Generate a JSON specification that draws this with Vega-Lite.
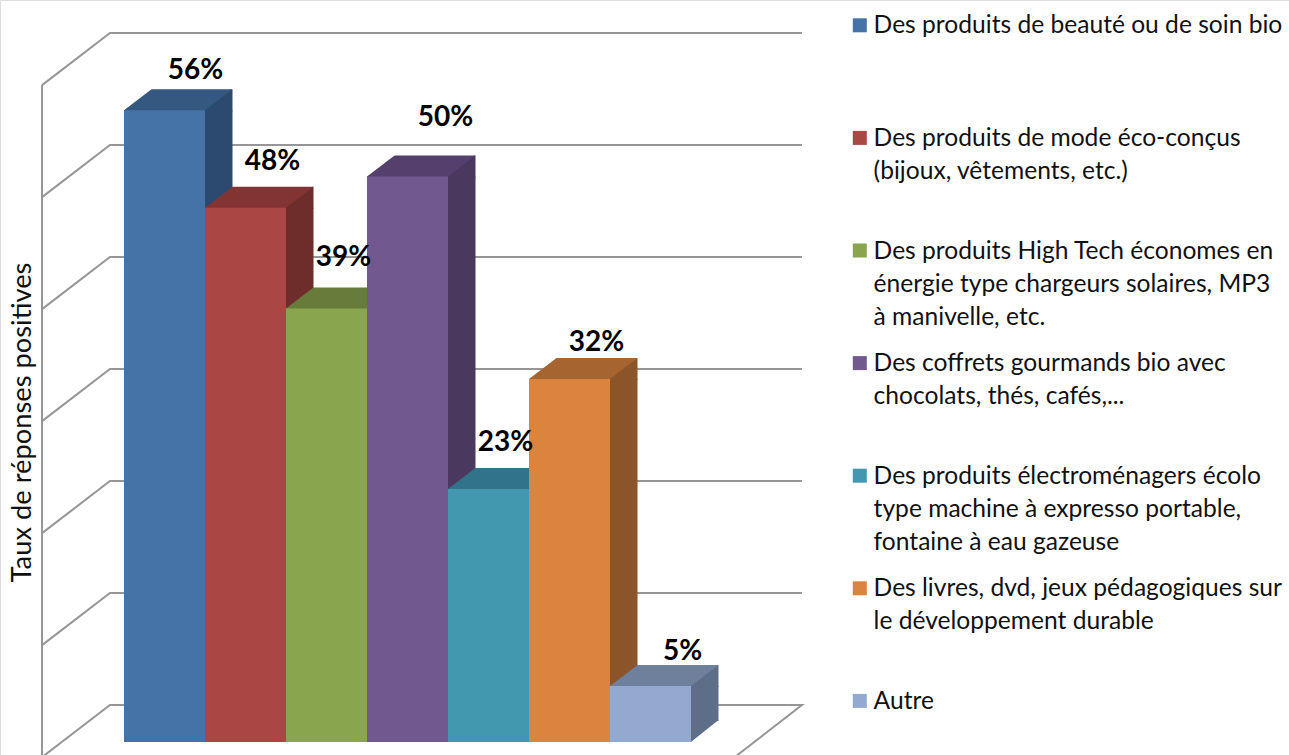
{"$schema":"https://vega.github.io/schema/vega-lite/v6.json","width":1289,"height":755,"padding":0,"autosize":{"type":"none"},"background":"white",
"datasets":{"bars":[
{"category":"Des produits de beauté ou de soin bio","value":56.4,"label":"56%"},
{"category":"Des produits de mode éco-conçus|(bijoux, vêtements, etc.)","value":47.7,"label":"48%"},
{"category":"Des produits High Tech économes en|énergie type chargeurs solaires, MP3|à manivelle, etc.","value":38.7,"label":"39%"},
{"category":"Des coffrets gourmands bio avec|chocolats, thés, cafés,...","value":50.5,"label":"50%"},
{"category":"Des produits électroménagers écolo|type machine à expresso portable,|fontaine à eau gazeuse","value":22.6,"label":"23%"},
{"category":"Des livres, dvd, jeux pédagogiques sur|le développement durable","value":32.4,"label":"32%"},
{"category":"Autre","value":5,"label":"5%"}],
"frame":[
{"line":"t0","pos":-1.012,"level":-1.35},{"line":"t0","pos":-0.173,"level":3.3},{"line":"t0","pos":8.37,"level":3.3},{"line":"t0","pos":7.54,"level":-1.35},
{"line":"t1","pos":-1.012,"level":8.65},{"line":"t1","pos":-0.173,"level":13.3},{"line":"t1","pos":8.37,"level":13.3},
{"line":"t2","pos":-1.012,"level":18.65},{"line":"t2","pos":-0.173,"level":23.3},{"line":"t2","pos":8.37,"level":23.3},
{"line":"t3","pos":-1.012,"level":28.65},{"line":"t3","pos":-0.173,"level":33.3},{"line":"t3","pos":8.37,"level":33.3},
{"line":"t4","pos":-1.012,"level":38.65},{"line":"t4","pos":-0.173,"level":43.3},{"line":"t4","pos":8.37,"level":43.3},
{"line":"t5","pos":-1.012,"level":48.65},{"line":"t5","pos":-0.173,"level":53.3},{"line":"t5","pos":8.37,"level":53.3},
{"line":"t6","pos":-1.012,"level":58.65},{"line":"t6","pos":-0.173,"level":63.3},{"line":"t6","pos":8.37,"level":63.3},
{"line":"wall","pos":-1.012,"level":-1.35},{"line":"wall","pos":-1.012,"level":58.65}]},
"resolve":{"scale":{"x":"independent"}},
"layer":[
{"data":{"name":"frame"},"mark":{"type":"line","color":"#969696","strokeWidth":2,"interpolate":"linear"},
"encoding":{"x":{"field":"pos","type":"quantitative","scale":{"domain":[-1.531,14.383],"range":[0,1289],"nice":false,"zero":false},"axis":null},
"y":{"field":"level","type":"quantitative","scale":{"domain":[-1.16,66.25],"range":[755,0],"nice":false,"zero":false},"axis":{"labels":false,"ticks":false,"domain":false,"grid":false,"title":"Taux de réponses positives","titleFont":"Lato","titleFontSize":27.3,"titleFontWeight":"normal","titleColor":"#111111","titleX":36,"titleY":422,"titleAngle":-90}},
"detail":{"field":"line"},"order":{"field":"line"}}},
{"data":{"name":"bars"},
"encoding":{"x":{"field":"category","type":"nominal","sort":null,"scale":{"type":"band","range":[124,691],"paddingInner":0,"paddingOuter":0},"axis":null},
"y":{"field":"value","type":"quantitative"}},
"resolve":{"scale":{"fill":"independent","color":"independent"}},
"layer":[
{"mark":{"type":"bar","width":27.5,"xOffset":54.25},"encoding":{"y2":{"datum":1.875},"fill":{"field":"category","type":"nominal","sort":null,"legend":null,"scale":{"range":["#2c4a70","#6e2d2b","#586b33","#4a385f","#2a6373","#8c5529","#5f6e88"]}}}},
{"mark":{"type":"point","filled":true,"size":10000,"opacity":1,"strokeWidth":0,"shape":"M0.7,0.02 L0.7,-0.3 L1.36,-0.42 L1.36,0.02 Z"},"encoding":{"fill":{"field":"category","type":"nominal","sort":null,"legend":null,"scale":{"range":["#2c4a70","#6e2d2b","#586b33","#4a385f","#2a6373","#8c5529","#5f6e88"]}}}},
{"mark":{"type":"point","filled":true,"size":10000,"opacity":1,"strokeWidth":0,"shape":"M0.81,0 L0.81,-0.44 L1.36,-0.44 Z"},"encoding":{"y":{"datum":0},"fill":{"field":"category","type":"nominal","sort":null,"legend":null,"scale":{"range":["#2c4a70","#6e2d2b","#586b33","#4a385f","#2a6373","#8c5529","#5f6e88"]}}}},
{"mark":{"type":"point","filled":true,"size":10000,"opacity":1,"strokeWidth":0,"shape":"M-0.81,0.02 L-0.81,0 L-0.26,-0.42 L1.36,-0.42 L0.81,0 L0.81,0.02 Z"},"encoding":{"fill":{"field":"category","type":"nominal","sort":null,"legend":null,"scale":{"range":["#34587f","#813432","#677c3a","#553f6c","#317489","#a66430","#6f809c"]}}}},
{"mark":{"type":"bar"},"encoding":{"y":{"field":"value","type":"quantitative"},"y2":{"datum":0},
"fill":{"field":"category","type":"nominal","sort":null,"scale":{"range":["#4572a7","#aa4643","#89a54e","#71588f","#4198af","#db843d","#93a9cf"]},
"legend":{"title":null,"orient":"none","legendX":847.5,"legendY":13,"padding":0,"columns":1,"gridAlign":"all","rowPadding":21.6,"symbolType":"square","symbolSize":196,"symbolStrokeWidth":0,"labelFont":"Lato","labelFontSize":24.6,"labelColor":"#111111","labelLimit":500,"labelOffset":1.5,"labelBaseline":"alphabetic","labelExpr":"split(datum.label,'|')","encoding":{"labels":{"lineHeight":{"value":33},"dy":{"value":8}}}}}}},
{"transform":[{"filter":"datum.label==='56%'"}],"mark":{"type":"text","font":"Lato","fontWeight":"bold","fontSize":28,"color":"#000000","dx":31,"dy":-39},"encoding":{"text":{"field":"label"}}},
{"transform":[{"filter":"datum.label==='48%'"}],"mark":{"type":"text","font":"Lato","fontWeight":"bold","fontSize":28,"color":"#000000","dx":27,"dy":-46},"encoding":{"text":{"field":"label"}}},
{"transform":[{"filter":"datum.label==='39%'"}],"mark":{"type":"text","font":"Lato","fontWeight":"bold","fontSize":28,"color":"#000000","dx":17,"dy":-51},"encoding":{"text":{"field":"label"}}},
{"transform":[{"filter":"datum.label==='50%'"}],"mark":{"type":"text","font":"Lato","fontWeight":"bold","fontSize":28,"color":"#000000","dx":38,"dy":-58},"encoding":{"text":{"field":"label"}}},
{"transform":[{"filter":"datum.label==='23%'"}],"mark":{"type":"text","font":"Lato","fontWeight":"bold","fontSize":28,"color":"#000000","dx":17,"dy":-46},"encoding":{"text":{"field":"label"}}},
{"transform":[{"filter":"datum.label==='32%'"}],"mark":{"type":"text","font":"Lato","fontWeight":"bold","fontSize":28,"color":"#000000","dx":27,"dy":-36},"encoding":{"text":{"field":"label"}}},
{"transform":[{"filter":"datum.label==='5%'"}],"mark":{"type":"text","font":"Lato","fontWeight":"bold","fontSize":28,"color":"#000000","dx":32,"dy":-34},"encoding":{"text":{"field":"label"}}}
]}
]}
